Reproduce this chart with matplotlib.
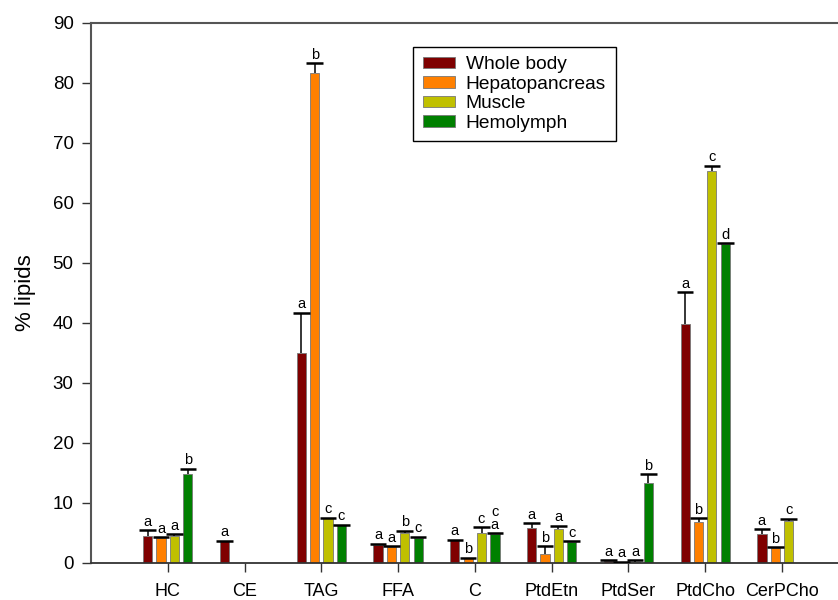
import numpy as np
import matplotlib
matplotlib.use('Agg')
import matplotlib.pyplot as plt

plt.rcParams['font.family'] = ['Liberation Sans', 'DejaVu Sans']

classes = ['HC', 'CE', 'TAG', 'FFA', 'C', 'PtdEtn', 'PtdSer', 'PtdCho', 'CerPCho']
tissues = ['Whole body', 'Hepatopancreas', 'Muscle', 'Hemolymph']
colors = ['#7f0000', '#ff8000', '#c0c000', '#008000']

# mean values (% lipids), nan = not detected
whole_body = [4.5, 3.6, 35.0, 3.0, 3.8, 5.9, 0.4, 39.9, 4.8]
hepatopancreas = [4.1, np.nan, 81.7, 2.7, 0.75, 1.5, 0.1, 6.9, 2.5]
muscle = [4.55, np.nan, 7.45, 5.0, 4.95, 5.7, 0.2, 65.4, 6.95]
hemolymph = [14.9, np.nan, 6.3, 4.2, 4.8, 3.45, 13.3, 53.2, np.nan]

# upper error (SD)
err_wb = [0.95, 0.1, 6.7, 0.2, 0.1, 0.7, 0.1, 5.2, 0.8]
err_hp = [0.2, np.nan, 1.6, 0.1, 0.15, 1.3, 0.1, 0.6, 0.1]
err_mu = [0.25, np.nan, 0.1, 0.4, 1.05, 0.5, 0.25, 0.8, 0.4]
err_hl = [0.8, np.nan, 0.1, 0.2, 0.15, 0.15, 1.5, 0.1, np.nan]

# significance letters
let_wb = ['a', 'a', 'a', 'a', 'a', 'a', 'a', 'a', 'a']
let_hp = ['a', '', 'b', 'a', 'b', 'b', 'a', 'b', 'b']
let_mu = ['a', '', 'c', 'b', 'c', 'a', 'a', 'c', 'c']
let_hl = ['b', '', 'c', 'c', 'c\na', 'c', 'b', 'd', '']

means = [whole_body, hepatopancreas, muscle, hemolymph]
errs = [err_wb, err_hp, err_mu, err_hl]
letters = [let_wb, let_hp, let_mu, let_hl]

fig = plt.figure(figsize=(8.38, 6.0), dpi=100)
ax = fig.add_axes([0.1086, 0.0617, 0.8914, 0.9])

x = np.arange(1, len(classes) + 1)
step = 0.174
width = 0.12
cap = 0.108
for k in range(4):
    xs = x + (k - 1.5) * step
    m = np.array(means[k], dtype=float)
    e = np.array(errs[k], dtype=float)
    ax.bar(xs, m, width=width, color=colors[k], edgecolor='#777777',
           linewidth=0.6, label=tissues[k], zorder=2)
    ok = ~np.isnan(m)
    # only the upper whisker, like the original
    ax.vlines(xs[ok], m[ok], m[ok] + e[ok], color='black', linewidth=1.1, zorder=3)
    ax.hlines(m[ok] + e[ok], xs[ok] - cap, xs[ok] + cap, color='black',
              linewidth=1.8, zorder=3)
    for xi, mi, ei, lt in zip(xs, m, e, letters[k]):
        if lt and not np.isnan(mi):
            ax.annotate(lt, (xi, mi + ei), xytext=(0, 1), textcoords='offset points',
                        ha='center', va='bottom', fontsize=10.5, linespacing=0.9)

ax.set_xlim(0, 9.73)
ax.set_ylim(0, 90)
ax.set_yticks(np.arange(0, 91, 10))
ax.set_xticks(x)
ax.set_xticklabels(classes)
ax.tick_params(axis='y', labelsize=13.5, length=6.5, width=1.0, pad=6, color='#333333')
ax.tick_params(axis='x', labelsize=13, length=6.5, width=1.0, pad=8, color='#333333')
ax.set_ylabel('% lipids', fontsize=16, labelpad=12)

ax.spines['right'].set_visible(False)
for s in ['left', 'top']:
    ax.spines[s].set_color('#555555')
    ax.spines[s].set_linewidth(1.5)
ax.spines['bottom'].set_color('#333333')
ax.spines['bottom'].set_linewidth(1.3)

leg = ax.legend(loc='upper left', bbox_to_anchor=(0.431, 0.956), fontsize=13.8,
                frameon=True, fancybox=False, edgecolor='black', framealpha=1,
                handlelength=1.7, handleheight=0.55, labelspacing=0.13,
                borderpad=0.5, handletextpad=0.55, borderaxespad=0)
leg.get_frame().set_linewidth(1.0)

fig.savefig('out.png', dpi=100)
